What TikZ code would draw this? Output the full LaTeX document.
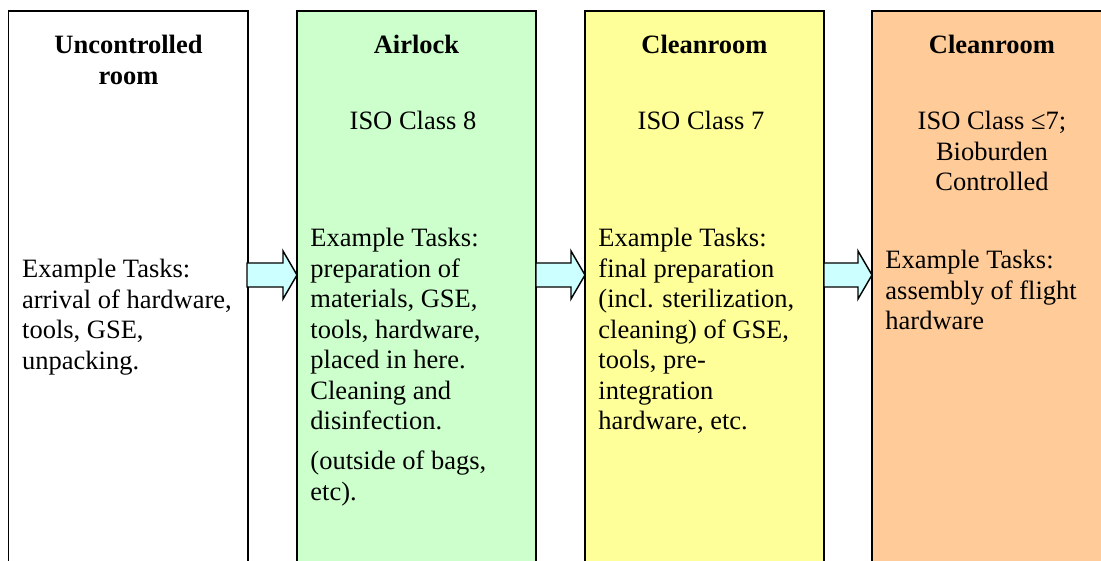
\documentclass[tikz,border=0pt]{standalone}
\usepackage{fontspec}
\setmainfont{Liberation Serif}
\definecolor{airlockgreen}{HTML}{CCFFCC}
\definecolor{cleanyellow}{HTML}{FFFF99}
\definecolor{bioorange}{HTML}{FFCC99}
\definecolor{arrowcyan}{HTML}{CCFFFF}
\newcommand\leftlines[1]{\parbox[t]{120pt}{\raggedright #1}}
\newcommand\midlines[1]{\parbox[t]{100pt}{\centering #1}}
\begin{document}
\begin{tikzpicture}[x=0.4528pt,y=-0.4528pt,
  room/.style={draw=black, line width=0.65pt},
  title/.style={anchor=base, inner sep=0pt, font=\fontsize{12}{13.8}\selectfont\bfseries},
  sub/.style={anchor=base, inner sep=0pt, font=\fontsize{12}{13.8}\selectfont},
  body/.style={anchor=base west, inner sep=0pt, font=\fontsize{12}{13.8}\selectfont},
  flow/.style={fill=arrowcyan, draw=black, line width=0.65pt, line join=miter}]
\useasboundingbox (0,0) rectangle (1101,561);
\begin{scope}
\clip (0,0) rectangle (1101,561);
% rooms
\path[room, fill=white]        (8.5,11) rectangle (248,600);
\path[room, fill=airlockgreen] (297,11) rectangle (536,600);
\path[room, fill=cleanyellow]  (585,11) rectangle (824,600);
\path[room, fill=bioorange]    (872,11) rectangle (1112,600);
% transfer arrows
\path[flow] (247,263) -- (283,263) -- (283,251) -- (297,275) -- (283,299) -- (283,287) -- (247,287) -- cycle;
\path[flow] (536,263) -- (571,263) -- (571,251) -- (585,275) -- (571,299) -- (571,287) -- (536,287) -- cycle;
\path[flow] (824,263) -- (858,263) -- (858,251) -- (872,275) -- (858,299) -- (858,287) -- (824,287) -- cycle;
\end{scope}
% titles
\node[title] (t1) at (128.5,54) {\midlines{Uncontrolled\\room}};
\node[title] (t2) at (416.5,54) {\midlines{Airlock}};
\node[title] (t3) at (704.5,54) {\midlines{Cleanroom}};
\node[title] (t4) at (992,54)   {\midlines{Cleanroom}};
% classes
\node[sub] (s2) at (413,130) {\midlines{ISO Class 8}};
\node[sub] (s3) at (701,130) {\midlines{ISO Class 7}};
\node[sub] (s4) at (992,130) {\midlines{ISO Class ≤7;\\Bioburden\\Controlled}};
% tasks
\node[body] (b1) at (21.7,278) {\leftlines{Example Tasks:\\arrival of hardware,\\tools, GSE,\\unpacking.}};
\node[body] (b2) at (310,247) {\leftlines{Example Tasks:\\preparation of\\materials, GSE,\\tools, hardware,\\placed in here.\\Cleaning and\\disinfection.}};
\node[body] (b2x) at (310,470) {\leftlines{(outside of bags,\\etc).}};
\node[body] (b3) at (598,247) {\leftlines{Example Tasks:\\final preparation\\(incl. sterilization,\\cleaning) of GSE,\\tools, pre-\\integration\\hardware, etc.}};
\node[body] (b4) at (885,269) {\leftlines{Example Tasks:\\assembly of flight\\hardware}};
\end{tikzpicture}
\end{document}
